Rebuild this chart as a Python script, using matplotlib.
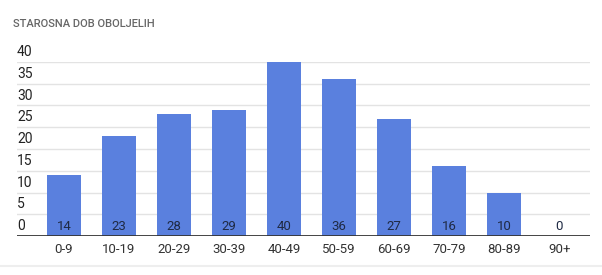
import matplotlib.pyplot as plt
import matplotlib.transforms as mtransforms
import numpy as np

plt.rcParams['font.family'] = ['Roboto', 'DejaVu Sans']

title = "STAROSNA DOB OBOLJELIH"
categories = ["0-9", "10-19", "20-29", "30-39", "40-49", "50-59", "60-69", "70-79", "80-89", "90+"]
counts = [14, 23, 28, 29, 40, 36, 27, 16, 10, 0]
y_ticks = [0, 5, 10, 15, 20, 25, 30, 35, 40]

W, H = 602, 275
fig = plt.figure(figsize=(W / 100, H / 100), dpi=100)
left, right, bottom, top = 17, 590, 236, 62
ax = fig.add_axes([left / W, 1 - bottom / H, (right - left) / W, (bottom - top) / H])

x = np.arange(len(categories))
ax.bar(x, counts, width=0.61, color='#5a80de', zorder=2)

ax.set_xlim(-0.855, 9.56)
ax.set_ylim(0, 40)

for t in y_ticks[1:]:
    ax.axhline(t, color='#e3e3e3', lw=1, zorder=1)
ax.axhline(0, color='#333333', lw=2, zorder=3)

# y labels sit just above their gridlines, left aligned inside the plot
trans = mtransforms.blended_transform_factory(ax.transAxes, ax.transData)
for t in y_ticks:
    ax.annotate(str(t), (0, t), xycoords=trans, xytext=(0, 2), textcoords='offset points',
                ha='left', va='bottom', fontsize=10, color='#222222')

for xi, v in zip(x, counts):
    ax.annotate(str(v), (xi, 0), xytext=(0, 2), textcoords='offset points',
                ha='center', va='bottom', fontsize=9.5, color='#1f2a44', zorder=4)

ax.set_xticks(x)
ax.set_xticklabels(categories, fontsize=9.5, color='#333333')
ax.tick_params(axis='x', length=0, pad=5)
ax.set_yticks([])
for s in ax.spines.values():
    s.set_visible(False)

fig.text(13 / W, 1 - 24 / H, title, fontsize=8, fontweight='medium', color='#666666',
         va='center', ha='left')
fig.add_artist(plt.Line2D([0, 1], [1 - 266 / H] * 2, color='#eeeeee', lw=1.5))

fig.savefig("out.png", dpi=100)
